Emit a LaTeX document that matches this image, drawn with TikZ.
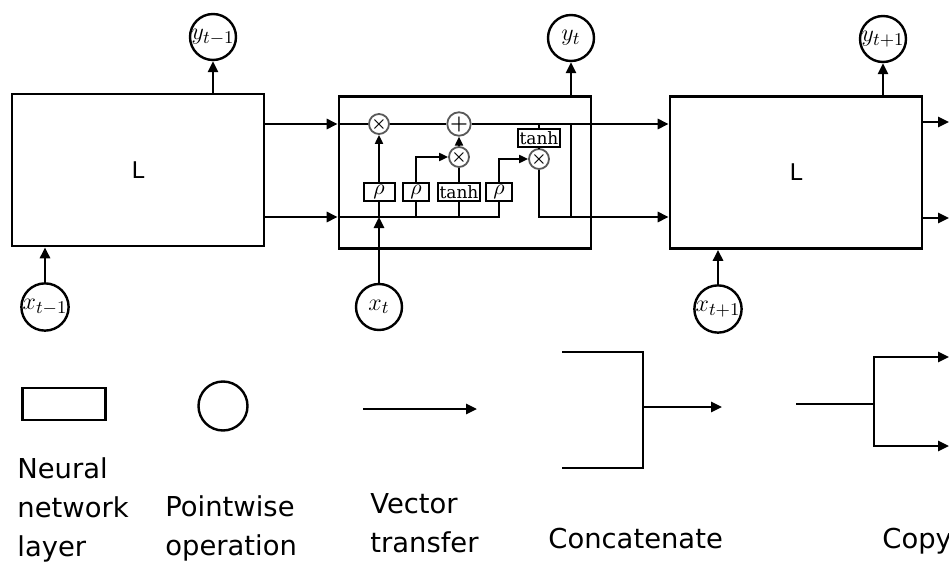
\documentclass[tikz,border=0pt]{standalone}
\usepackage{amsmath}
\usepackage{fontspec}
\newfontfamily\legendfont{DejaVu Sans}
\newfontfamily\gatefont{DejaVu Serif}
\usetikzlibrary{
  arrows.meta,
  positioning,
}
\tikzset{
  layerbox/.style={
    rectangle, draw, line width=1.3pt, inner sep=0pt,
    minimum width=126pt, minimum height=76pt,
    font=\legendfont\fontsize{11.5}{13}\selectfont
  },
  ionode/.style={
    circle, draw, line width=1.2pt, minimum size=23pt,
    inner sep=0pt, font=\fontsize{12.5}{14}\selectfont
  },
  gatebox/.style={
    rectangle, draw, line width=1pt, minimum height=9pt,
    inner sep=0.8pt, font=\gatefont\fontsize{8.5}{9}\selectfont
  },
  rhobox/.style={
    gatebox, minimum width=13pt, font=\fontsize{11}{11}\selectfont
  },
  opnode/.style={
    circle, draw=black!65, line width=0.9pt, minimum size=8.5pt,
    inner sep=0pt, font=\fontsize{8}{8}\selectfont
  },
  vecarrow/.style={-{Triangle[length=5.5pt,width=5pt]}, line width=1.3pt},
  cellarrow/.style={-{Triangle[length=4.5pt,width=4pt]}, line width=1pt},
  cellline/.style={line width=1pt},
  legendtext/.style={
    anchor=north west, align=left, inner sep=0pt,
    font=\legendfont\fontsize{13.7}{19.5}\selectfont
  },
}

\begin{document}
\begin{tikzpicture}[x=0.5pt, y=-0.5pt]
  \useasboundingbox (0,0) rectangle (949,562);

  % ── Rails ──
  \coordinate (cTop) at (0,124);
  \coordinate (cBot) at (0,217);

  % ── Layers ──
  \node[layerbox] (layerL) at (138,170)   {L};
  \node[layerbox] (cellM)  at (465,172.5) {};
  \node[layerbox] (layerR) at (796,172.5) {L};

  % ── Inputs / outputs ──
  \node[ionode] (yPrev) at (213,37)  {$y_{t-1}$};
  \node[ionode] (xPrev) at (45,307)  {$x_{t-1}$};
  \node[ionode] (yCur)  at (571,38)  {$y_t$};
  \node[ionode] (xCur)  at (379,307) {$x_t$};
  \node[ionode] (yNext) at (883,39)  {$y_{t+1}$};
  \node[ionode] (xNext) at (718,309) {$x_{t+1}$};

  % ── Cell gates ──
  \node[rhobox, minimum width=15.5pt] (gF) at (379,192) {$\rho$};
  \node[rhobox]                       (gI) at (416,192) {$\rho$};
  \node[gatebox, minimum width=21pt]  (gC) at (459,192) {tanh};
  \node[rhobox]                       (gO) at (499,192) {$\rho$};
  \node[gatebox, minimum width=20.5pt] (tanhC) at (539,138) {tanh};

  % ── Pointwise ops ──
  \node[opnode, minimum size=9.5pt] (opF) at (379,124) {$\boldsymbol{\times}$};
  \node[opnode] (opI) at (459,157) {$\boldsymbol{\times}$};
  \node[opnode, minimum size=10.5pt, font=\fontsize{10}{10}\selectfont]
    (opS) at (459,124) {$\boldsymbol{+}$};
  \node[opnode] (opO) at (539,159) {$\boldsymbol{\times}$};

  % ── Edges between layers ──
  \draw[vecarrow] (xPrev.north) -- (xPrev.north |- layerL.south);
  \draw[vecarrow] (yPrev.south |- layerL.north) -- (yPrev.south);
  \draw[vecarrow] (layerL.east |- cTop) -- (cellM.west |- cTop);
  \draw[vecarrow] (layerL.east |- cBot) -- (cellM.west |- cBot);

  \draw[vecarrow] (xCur.north) -- (xCur.north |- cBot);
  \draw[vecarrow] (yCur.south |- cellM.north) -- (yCur.south);
  \draw[vecarrow] (cellM.east |- cTop) -- (layerR.west |- cTop);
  \draw[vecarrow] (cellM.east |- cBot) -- (layerR.west |- cBot);

  \coordinate (outT) at (949,122);
  \coordinate (outB) at (949,218);
  \draw[vecarrow] (xNext.north) -- (xNext.north |- layerR.south);
  \draw[vecarrow] (yNext.south |- layerR.north) -- (yNext.south);
  \draw[vecarrow] (layerR.east |- outT) -- (outT);
  \draw[vecarrow] (layerR.east |- outB) -- (outB);

  % ── Inside the cell ──
  \draw[cellline] (cellM.west |- cTop) -- (opF.west);
  \draw[cellline] (opF.east) -- (opS.west);
  \draw[cellline] (opS.east) -- (cellM.east |- cTop);
  \draw[cellline] (cellM.west |- cBot) -- (gO.south |- cBot) -- (gO.south);
  \draw[cellline] (gF.south |- cBot) -- (gF.south);
  \draw[cellline] (gI.south |- cBot) -- (gI.south);
  \draw[cellline] (gC.south |- cBot) -- (gC.south);
  \draw[cellarrow] (gF.north) -- (opF.south);
  \draw[cellarrow] (gI.north) |- (opI.west);
  \draw[cellline]  (gC.north) -- (opI.south);
  \draw[cellarrow] (opI.north) -- (opS.south);
  \draw[cellarrow] (gO.north) |- (opO.west);
  \draw[cellline]  (tanhC.north) -- (tanhC.north |- cTop);
  \draw[cellline]  (tanhC.south) -- (opO.north);
  \draw[cellline]  (opO.south) |- (cellM.east |- cBot);
  \draw[cellline]  (yCur.south |- cTop) -- (yCur.south |- cBot);

  % ── Legend ──
  \node[layerbox, minimum width=41.5pt, minimum height=16pt] (legLayer) at (64,404) {};
  \node[ionode, minimum size=24.5pt] (legOp) at (223,406) {};
  \coordinate (vecA) at (363,409);
  \coordinate (vecB) at (477,409);
  \draw[vecarrow] (vecA) -- (vecB);

  \coordinate (catA) at (562,352);
  \coordinate (catB) at (562,468);
  \coordinate (catJ) at (643,407);
  \coordinate (catE) at (722,407);
  \draw[line width=1.3pt] (catA) -| (catJ |- catB) -- (catB);
  \draw[vecarrow] (catJ) -- (catE);

  \coordinate (copyA) at (796,404);
  \coordinate (copyJ) at (874,404);
  \coordinate (copyT) at (949,357);
  \coordinate (copyB) at (949,446);
  \draw[line width=1.3pt] (copyA) -- (copyJ);
  \draw[vecarrow] (copyJ) |- (copyT);
  \draw[vecarrow] (copyJ) |- (copyB);

  \node[legendtext] (txtLayer) at (17,457)  {Neural\\network\\layer};
  \node[legendtext] (txtOp)    at (165,495) {Pointwise\\operation};
  \node[legendtext] (txtVec)   at (370,493) {Vector\\transfer};
  \node[legendtext] (txtCat)   at (548,528) {Concatenate};
  \node[legendtext] (txtCopy)  at (882,528) {Copy};

\end{tikzpicture}
\end{document}
